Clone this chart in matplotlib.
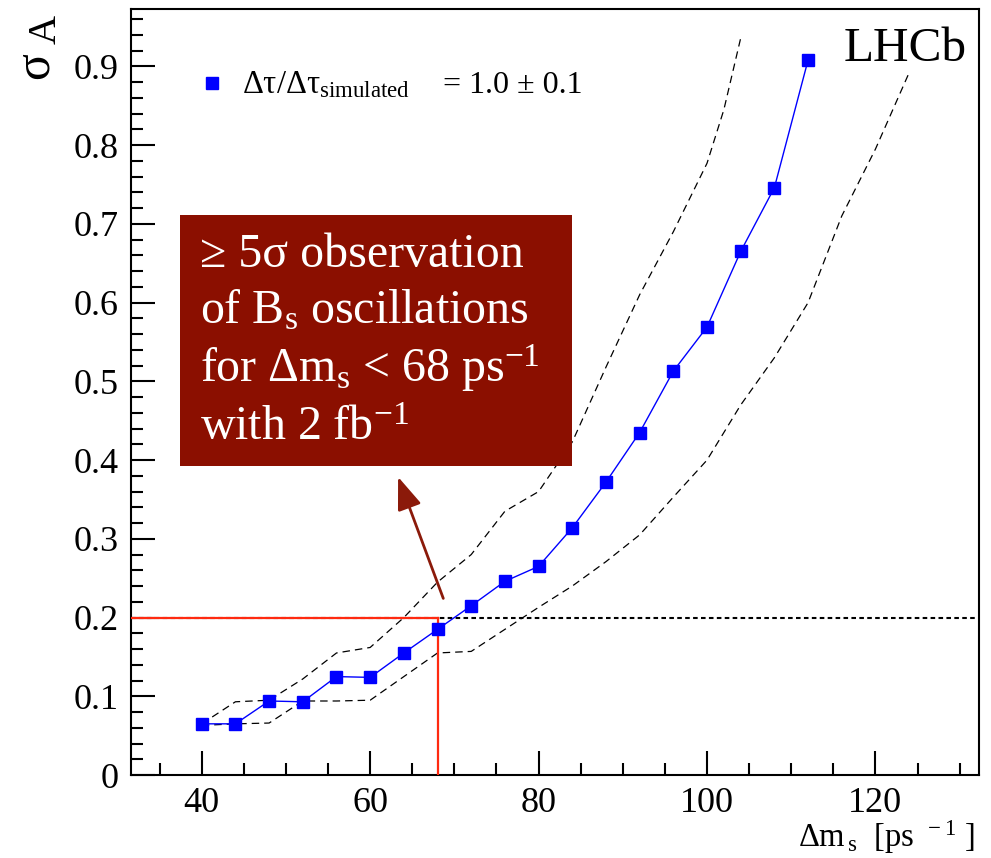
import matplotlib
matplotlib.use("Agg")
import matplotlib.pyplot as plt
from matplotlib.patches import Rectangle
from matplotlib.ticker import MultipleLocator

plt.rcParams['font.family'] = ['Liberation Serif', 'DejaVu Serif']
plt.rcParams['mathtext.fontset'] = 'custom'
plt.rcParams['mathtext.rm'] = 'Liberation Serif'
plt.rcParams['mathtext.it'] = 'Liberation Serif:italic'
plt.rcParams['mathtext.bf'] = 'Liberation Serif:bold'
plt.rcParams['mathtext.fallback'] = 'stix'

# ---------- data
dm = [40, 44, 48, 52, 56, 60, 64, 68, 72, 76, 80, 84, 88, 92, 96, 100, 104, 108, 112]
sigma_a = [0.065, 0.065, 0.094, 0.093, 0.125, 0.124, 0.155, 0.185, 0.215, 0.246,
           0.265, 0.314, 0.372, 0.435, 0.513, 0.569, 0.665, 0.746, 0.908]

# dashed band, upper edge
up_x = [40, 44, 48, 52, 56, 60, 64, 68, 72, 76, 80, 84, 88, 92, 96, 100, 102, 104]
up_y = [0.065, 0.093, 0.095, 0.122, 0.155, 0.162, 0.200, 0.245, 0.280, 0.335,
        0.360, 0.423, 0.518, 0.610, 0.690, 0.777, 0.845, 0.936]

# dashed band, lower edge
lo_x = [40, 44, 48, 52, 56, 60, 64, 68, 72, 76, 80, 84, 88, 92, 96, 100, 104,
        108, 112, 116, 120, 124]
lo_y = [0.063, 0.065, 0.066, 0.094, 0.094, 0.095, 0.125, 0.155, 0.157, 0.185,
        0.213, 0.240, 0.271, 0.305, 0.353, 0.400, 0.470, 0.530, 0.600, 0.710,
        0.795, 0.892]

dm_limit = 68
sigma_limit = 0.2

xticks = [40, 60, 80, 100, 120]
yticks = [0, 0.1, 0.2, 0.3, 0.4, 0.5, 0.6, 0.7, 0.8, 0.9]
ytick_labels = ['0', '0.1', '0.2', '0.3', '0.4', '0.5', '0.6', '0.7', '0.8', '0.9']

W, H = 991, 858
fig = plt.figure(figsize=(W / 100, H / 100), dpi=100)
ax = fig.add_axes([131 / W, 83 / H, (979 - 131) / W, (775 - 9) / H])
xmin, xmax = 31.6, 132.3
ax.set_xlim(xmin, xmax)
ax.set_ylim(0, 0.973)

# ---------- lines
ax.axhline(sigma_limit, color='black', ls=(0, (2.2, 1.6)), lw=1.5, zorder=2)
ax.plot([xmin, dm_limit], [sigma_limit, sigma_limit], color='#ff2a10', lw=1.6, zorder=3)
ax.plot([dm_limit, dm_limit], [0, sigma_limit], color='#ff2a10', lw=1.6, zorder=3)

ax.plot(up_x, up_y, color='black', ls=(0, (6, 4)), lw=0.9, zorder=2)
ax.plot(lo_x, lo_y, color='black', ls=(0, (6, 4)), lw=0.9, zorder=2)

ax.plot(dm, sigma_a, color='#0000ff', lw=1.0, marker='s', markersize=9,
        markerfacecolor='#0000ff', markeredgecolor='#0000ff', zorder=4)

# ---------- annotation box + arrow
ax.add_patch(Rectangle((37.42, 0.393), 83.96 - 37.42, 0.7115 - 0.393,
                       facecolor='#8b0f00', edgecolor='none', zorder=5))
ax.annotate('', xy=(63.2, 0.382), xytext=(68.8, 0.221),
            arrowprops=dict(arrowstyle='-|>,head_length=0.8,head_width=0.3',
                            color='#8b1a0a', lw=2, mutation_scale=25), zorder=6)

box_lines = ['≥ 5σ observation',
             r'of B$_\mathrm{s}$ oscillations',
             r'for Δm$_\mathrm{s}$ < 68 ps$^{-1}$',
             r'with 2 fb$^{-1}$']
baselines = [266.7, 323, 381.7, 440]
for txt, b in zip(box_lines, baselines):
    fig.text(200 / W, 1 - b / H, txt, color='white', fontsize=34.5,
             va='baseline', ha='left', zorder=7)

# ---------- legend entry
fig.lines.append(plt.Line2D([211.7 / W], [1 - 83.3 / H], transform=fig.transFigure,
                            marker='s', markersize=9, color='#0000ff', ls='none'))
fig.text(241.7 / W, 1 - 93 / H, r'Δτ/Δτ$_\mathrm{simulated}$', fontsize=23.5,
         va='baseline', ha='left')
fig.text(443 / W, 1 - 93 / H, '= 1.0 ± 0.1', fontsize=23, va='baseline', ha='left')

fig.text(967 / W, 1 - 61 / H, 'LHCb', fontsize=35.5, va='baseline', ha='right')

# ---------- axes styling
ax.set_xticks(xticks)
ax.set_xticklabels([str(t) for t in xticks])
ax.set_yticks(yticks)
ax.set_yticklabels(ytick_labels)
ax.xaxis.set_minor_locator(MultipleLocator(5))
ax.yaxis.set_minor_locator(MultipleLocator(0.02))
ax.tick_params(which='both', direction='in', top=False, right=False,
               width=1.5, labelsize=26, pad=9)
ax.tick_params(which='major', length=17)
ax.tick_params(which='minor', length=8.5)
for s in ax.spines.values():
    s.set_linewidth(1.5)

# y title: sigma A, rotated, at the top end of the axis
fig.text(46.5 / W, 1 - 30 / H, 'A', fontsize=29, rotation=90, ha='center', va='center')
fig.text(35 / W, 1 - 66 / H, 'σ', fontsize=36, rotation=90, ha='center', va='center')

fig.text(975 / W, 1 - 847 / H, r'Δm$_{\,\mathrm{s}}$  [ps$^{\ \ -1}$ ]', fontsize=23.5,
         ha='right', va='baseline')

fig.savefig('out.png', dpi=100)
